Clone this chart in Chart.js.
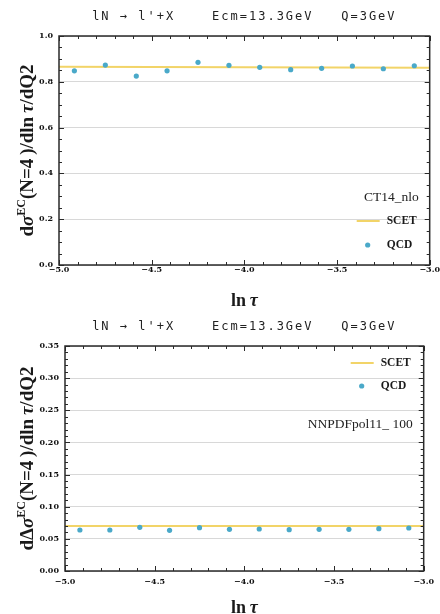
<!DOCTYPE html>
<html>
<head>
<meta charset="utf-8">
<script src="https://cdn.jsdelivr.net/npm/chart.js@4.4.1/dist/chart.umd.min.js"></script>
<style>
  html, body { margin: 0; padding: 0; background: #fff; }
  canvas { display: block; }
</style>
</head>
<body>
<canvas id="unpol" width="440" height="307"></canvas>
<canvas id="pol" width="440" height="307"></canvas>
<script>
// ln(tau) bin centres, QCD points
const lnTau = [-4.917, -4.75, -4.583, -4.417, -4.25, -4.083, -3.917, -3.75, -3.583, -3.417, -3.25, -3.083]
const qcdUnpol = [0.848, 0.873, 0.825, 0.848, 0.885, 0.872, 0.863, 0.853, 0.859, 0.869, 0.857, 0.870]
const qcdPol = [0.0638, 0.0638, 0.0680, 0.0633, 0.0674, 0.0648, 0.0653, 0.0643, 0.0648, 0.0648, 0.0658, 0.0669]

// SCET curve (straight line across the window)
const scetX = [-5, -3]
const scetUnpol = [0.866, 0.861]
const scetPol = [0.070, 0.070]

// tick labels
const xTicks = [-5, -4.5, -4, -3.5, -3]
const yTicksUnpol = [0, 0.2, 0.4, 0.6, 0.8, 1.0]
const yTicksPol = [0, 0.05, 0.10, 0.15, 0.20, 0.25, 0.30, 0.35]

const titleText = "lN \u2192 l'+X    Ecm=13.3GeV   Q=3GeV"
const yellow = '#f2d468'
const teal = '#4aa9c9'

function fmt(v, d) {
  return v.toFixed(d).replace('-', '\u2212')
}

// draw a text made of several parts (fonts, raised bits)
function drawParts(ctx, parts, cx, cy, rot) {
  ctx.save()
  ctx.translate(cx, cy)
  if (rot) ctx.rotate(rot)
  let total = 0
  for (const p of parts) { ctx.font = p.f; total += ctx.measureText(p.t).width }
  let x = -total / 2
  ctx.textAlign = 'left'
  ctx.textBaseline = 'alphabetic'
  ctx.fillStyle = '#1a1a1a'
  for (const p of parts) {
    ctx.font = p.f
    ctx.fillText(p.t, x, p.dy || 0)
    x += ctx.measureText(p.t).width
  }
  ctx.restore()
}

const B = 'bold 19px "Liberation Serif"'
const BI = 'italic bold 19px "Liberation Serif"'
const SUP = 'bold 12px "Liberation Serif"'

// frame, inner ticks, titles and legend
const framePlugin = {
  id: 'frame',
  afterDraw(chart, args, o) {
    const ctx = chart.ctx
    const a = chart.chartArea
    const xs = chart.scales.x, ys = chart.scales.y
    ctx.save()
    ctx.strokeStyle = '#2a2a2a'
    ctx.lineWidth = 1
    const tick = (v, len, axis) => {
      if (axis === 'x') {
        const p = Math.round(xs.getPixelForValue(v)) + 0.5
        ctx.beginPath()
        ctx.moveTo(p, a.bottom); ctx.lineTo(p, a.bottom - len)
        ctx.moveTo(p, a.top); ctx.lineTo(p, a.top + len)
        ctx.stroke()
      } else {
        const p = Math.round(ys.getPixelForValue(v)) + 0.5
        ctx.beginPath()
        ctx.moveTo(a.left, p); ctx.lineTo(a.left + len, p)
        ctx.moveTo(a.right, p); ctx.lineTo(a.right - len, p)
        ctx.stroke()
      }
    }
    // x ticks: major 0.5, minor 0.1
    for (let i = 0; i <= 20; i++) tick(-5 + i * 0.1, i % 5 === 0 ? 5 : 3, 'x')
    // y ticks
    const n = Math.round((o.yMax) / o.yMinor)
    const per = Math.round(o.yMajor / o.yMinor)
    for (let i = 0; i <= n; i++) tick(i * o.yMinor, i % per === 0 ? 5 : 3, 'y')

    ctx.lineWidth = 1.5
    ctx.strokeRect(a.left, a.top, a.right - a.left, a.bottom - a.top)

    const cx = (a.left + a.right) / 2
    // title
    ctx.font = '12px "DejaVu Sans Mono"'
    ctx.letterSpacing = '2px'
    ctx.fillStyle = '#222'
    ctx.textAlign = 'center'
    ctx.textBaseline = 'alphabetic'
    ctx.fillText(titleText, cx, a.top - 16)
    ctx.letterSpacing = '0px'

    // x title
    drawParts(ctx, [{ t: 'ln\u2009', f: 'bold 18px "Liberation Serif"' }, { t: '\u03c4', f: 'italic bold 18px "Liberation Serif"' }], cx, 306, 0)
    // y title
    drawParts(ctx, o.yTitle, 33, (a.top + a.bottom) / 2, -Math.PI / 2)

    // legend
    const L = o.legend
    ctx.textBaseline = 'middle'
    ctx.textAlign = 'right'
    ctx.fillStyle = '#222'
    ctx.font = '13.5px "Liberation Serif"'
    ctx.fillText(L.pdf, a.right - 11, a.top + L.pdfY)
    ctx.strokeStyle = yellow
    ctx.lineWidth = 2
    ctx.beginPath()
    ctx.moveTo(a.right - 73, a.top + L.scetY); ctx.lineTo(a.right - 50, a.top + L.scetY)
    ctx.stroke()
    ctx.fillStyle = teal
    ctx.beginPath()
    ctx.arc(a.right - 62, a.top + L.qcdY, 2.6, 0, Math.PI * 2)
    ctx.fill()
    ctx.fillStyle = '#1a1a1a'
    ctx.textAlign = 'left'
    ctx.font = 'bold 11.5px "Liberation Serif"'
    ctx.fillText('SCET', a.right - 43, a.top + L.scetY)
    ctx.fillText('QCD', a.right - 43, a.top + L.qcdY)
    ctx.restore()
  }
}

function makeChart(id, qcd, scet, yTicks, dec, opt) {
  const ctx = document.getElementById(id)
  const data = {
    datasets: [{
      label: 'QCD',
      data: lnTau.map((x, i) => ({ x: x, y: qcd[i] })),
      backgroundColor: teal,
      borderWidth: 0,
      pointRadius: 2.6,
      order: 0
    }, {
      label: 'SCET',
      data: scetX.map((x, i) => ({ x: x, y: scet[i] })),
      showLine: true,
      borderColor: yellow,
      borderWidth: 2,
      pointRadius: 0,
      order: 1
    }]
  }
  const tickFont = { family: 'DejaVu Serif', weight: 'bold', size: 8 }
  const config = {
    type: 'scatter',
    data: data,
    options: {
      responsive: false,
      animation: false,
      devicePixelRatio: 1,
      layout: { padding: { left: 0, right: 10, top: opt.top, bottom: 0 } },
      scales: {
        x: {
          type: 'linear', min: -5, max: -3,
          afterBuildTicks: s => { s.ticks = xTicks.map(v => ({ value: v })) },
          afterFit: s => { s.height = opt.xh },
          ticks: { callback: v => fmt(v, 1), font: tickFont, color: '#111', padding: opt.xpad, maxRotation: 0, autoSkip: false },
          grid: { display: false, drawTicks: false },
          border: { display: false }
        },
        y: {
          type: 'linear', min: 0, max: yTicks[yTicks.length - 1],
          afterBuildTicks: s => { s.ticks = yTicks.map(v => ({ value: v })) },
          afterFit: s => { s.width = opt.yw },
          ticks: { callback: v => fmt(v, dec), font: tickFont, color: '#111', padding: 6, autoSkip: false },
          grid: { color: '#d8d8d8', lineWidth: 1, drawTicks: false },
          border: { display: false }
        }
      },
      plugins: {
        legend: { display: false },
        tooltip: { enabled: false },
        frame: opt.frame
      }
    },
    plugins: [framePlugin]
  }
  return new Chart(ctx, config)
}

makeChart('unpol', qcdUnpol, scetUnpol, yTicksUnpol, 1, {
  top: 36, xh: 42, yw: 59, xpad: 0,
  frame: {
    yMax: 1.0, yMajor: 0.2, yMinor: 0.05,
    yTitle: [{ t: 'd', f: B }, { t: '\u03c3', f: BI }, { t: 'EC', f: SUP, dy: -8 }, { t: '(N=4\u2009)/dln\u2009', f: B }, { t: '\u03c4', f: BI }, { t: '/dQ2', f: B }],
    legend: { pdf: 'CT14_nlo', pdfY: 161, scetY: 185, qcdY: 209 }
  }
})

makeChart('pol', qcdPol, scetPol, yTicksPol, 2, {
  top: 39, xh: 43, yw: 65, xpad: 6,
  frame: {
    yMax: 0.35, yMajor: 0.05, yMinor: 0.01,
    yTitle: [{ t: 'd\u0394', f: B }, { t: '\u03c3', f: BI }, { t: 'EC', f: SUP, dy: -8 }, { t: '(N=4\u2009)/dln\u2009', f: B }, { t: '\u03c4', f: BI }, { t: '/dQ2', f: B }],
    legend: { pdf: 'NNPDFpol11_ 100', pdfY: 78, scetY: 17, qcdY: 40 }
  }
})
</script>
</body>
</html>
